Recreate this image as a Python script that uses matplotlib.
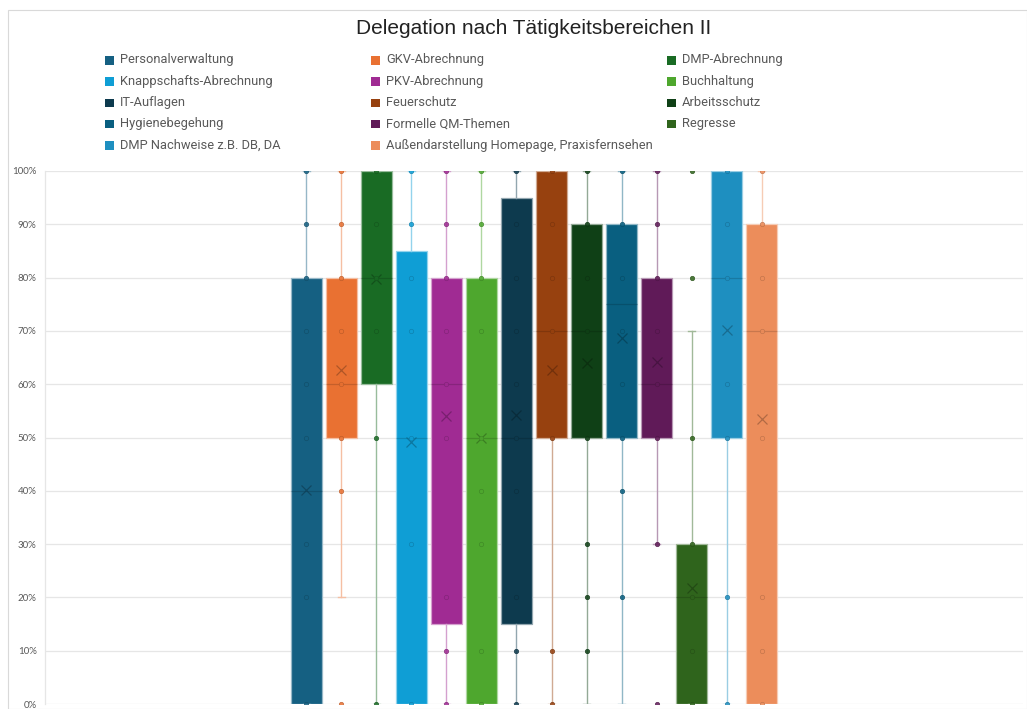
import matplotlib
matplotlib.use("Agg")
import matplotlib.pyplot as plt
from matplotlib.patches import Rectangle
import matplotlib.colors as mcolors
import numpy as np

# ---- data (percent) ----
categories = [
    "Personalverwaltung", "GKV-Abrechnung", "DMP-Abrechnung",
    "Knappschafts-Abrechnung", "PKV-Abrechnung", "Buchhaltung",
    "IT-Auflagen", "Feuerschutz", "Arbeitsschutz",
    "Hygienebegehung", "Formelle QM-Themen", "Regresse",
    "DMP Nachweise z.B. DB, DA", "Außendarstellung Homepage, Praxisfernsehen",
]
q1 = [0, 50, 60, 0, 15, 0, 15, 50, 50, 50, 50, 0, 50, 0]
median = [40, 60, 80, 50, 60, 50, 50, 70, 70, 75, 60, 20, 80, 70]
q3 = [80, 80, 100, 85, 80, 80, 95, 100, 90, 90, 80, 30, 100, 90]
whisker_low = [0, 20, 0, 0, 0, 0, 0, 0, 0, 0, 30, 0, 0, 0]
whisker_high = [100, 100, 100, 100, 100, 100, 100, 100, 100, 100, 100, 70, 100, 100]
mean = [40.2, 62.6, 79.8, 49.2, 54.0, 50.0, 54.3, 62.6, 63.9, 68.7, 64.2, 21.7, 70.2, 53.5]
points = [
    [100, 90, 80, 70, 60, 50, 30, 20, 0],
    [100, 90, 80, 70, 60, 50, 40, 0],
    [100, 90, 80, 70, 50, 0],
    [100, 90, 80, 70, 50, 30, 0],
    [100, 90, 80, 70, 60, 50, 20, 10, 0],
    [100, 90, 80, 70, 50, 40, 30, 10, 0],
    [100, 90, 80, 70, 60, 50, 40, 20, 10, 0],
    [100, 90, 80, 70, 50, 10, 0],
    [100, 90, 80, 70, 50, 30, 20, 10],
    [100, 90, 80, 70, 60, 50, 40, 20],
    [100, 90, 80, 70, 60, 50, 30, 0],
    [100, 80, 50, 30, 20, 10, 0],
    [100, 90, 80, 60, 50, 20, 0],
    [100, 90, 80, 70, 50, 20, 10, 0],
]
colors = [
    "#156082", "#E97132", "#196B24", "#0F9ED5", "#A02B93", "#4EA72E",
    "#0D3A4E", "#97410F", "#0F4016", "#095F80", "#601A58", "#2F641C",
    "#1E8FC0", "#EC8D5B",
]
yticks = list(range(0, 101, 10))
title = "Delegation nach Tätigkeitsbereichen II"

W, H = 1027, 709
fig = plt.figure(figsize=(W / 100, H / 100), dpi=100)
fig.patch.set_facecolor("white")

# chart border
fig.patches.append(Rectangle((8 / W, 0), (W - 8) / W, (H - 10) / H,
                             transform=fig.transFigure, fill=False,
                             edgecolor="#d9d9d9", linewidth=0.8))

ax = fig.add_axes([45 / W, 1 - 704 / H, (1023 - 45) / W, (704 - 171) / H])
ax.set_facecolor("none")


def shade(c, f):
    r, g, b = mcolors.to_rgb(c)
    return (r * f, g * f, b * f)


def tint(c, f):
    r, g, b = mcolors.to_rgb(c)
    return (r + (1 - r) * f, g + (1 - g) * f, b + (1 - b) * f)


n = len(categories)
pos = np.arange(n)
stats = []
for i in range(n):
    stats.append(dict(med=median[i], q1=q1[i], q3=q3[i],
                      whislo=whisker_low[i], whishi=whisker_high[i],
                      mean=mean[i], fliers=[], label=categories[i]))

for i in range(n):
    c = colors[i]
    ax.bxp([stats[i]], positions=[pos[i]], widths=0.91, patch_artist=True,
           showmeans=True, showfliers=False, capwidths=0.22,
           boxprops=dict(facecolor=c, edgecolor=tint(c, 0.55), linewidth=0.9),
           medianprops=dict(color=shade(c, 0.7), linewidth=0.9, alpha=0.5),
           whiskerprops=dict(color=tint(c, 0.55), linewidth=1.0),
           capprops=dict(color=tint(c, 0.55), linewidth=1.0),
           meanprops=dict(marker="x", markersize=7, markeredgecolor=shade(c, 0.65),
                          markeredgewidth=0.9, alpha=0.7),
           zorder=3)
    pts = points[i]
    ax.scatter([pos[i]] * len(pts), pts, s=10, color=c,
               edgecolors=shade(c, 0.8), linewidths=0.5, zorder=4, alpha=0.85)

ax.set_xlim(6.5 - 13.97, 6.5 + 13.97)
ax.set_ylim(0, 100)
ax.set_yticks(yticks)
ax.set_yticklabels([f"{t}%" for t in yticks], fontsize=7, color="#595959",
                   family=["Lato", "DejaVu Sans"])
ax.set_xticks([])
ax.tick_params(axis="y", length=0, pad=6)
ax.grid(axis="y", color="#e6e6e6", linewidth=0.9, zorder=0)
ax.set_axisbelow(True)
for s in ["top", "right", "bottom"]:
    ax.spines[s].set_visible(False)
ax.spines["left"].set_color("#e6e6e6")
ax.spines["left"].set_linewidth(0.9)

fig.text(534 / W, 1 - 29 / H, title, ha="center", va="center", fontsize=15,
         color="#222222", family=["Liberation Sans", "DejaVu Sans"])

# legend, row-major in three columns
col_x = [105, 371, 667]
for i, name in enumerate(categories):
    r, cidx = divmod(i, 3)
    y = 60 + r * 21.3
    x = col_x[cidx]
    fig.patches.append(Rectangle((x / W, 1 - (y + 4.5) / H), 8.5 / W, 8.5 / H,
                                 transform=fig.transFigure,
                                 facecolor=colors[i], edgecolor="none"))
    fig.text((x + 15) / W, 1 - y / H, name, ha="left", va="center",
             fontsize=9.3, color="#595959", family=["Roboto", "DejaVu Sans"])

fig.savefig("out.png", dpi=100)
